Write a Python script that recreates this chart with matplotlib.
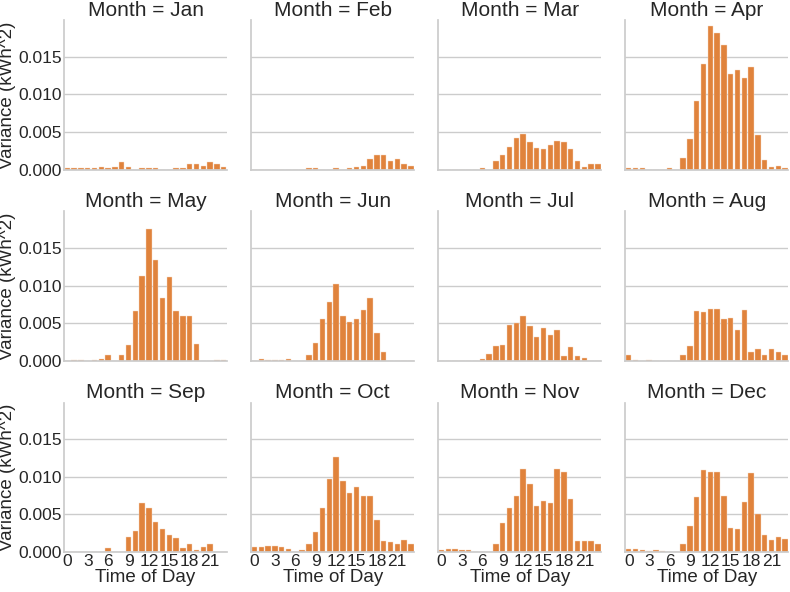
import matplotlib
matplotlib.use("Agg")
import matplotlib.pyplot as plt
import seaborn as sns

hours = list(range(24))
months = ["Jan", "Feb", "Mar", "Apr", "May", "Jun",
          "Jul", "Aug", "Sep", "Oct", "Nov", "Dec"]

# variance per hour of day (kWh^2)
jan = [0.00015, 0.00015, 0.00015, 0.00015, 0.00015, 0.0003, 0.0002, 0.0004, 0.0010, 0.0003, 0.0, 0.00015,
       0.00015, 0.00015, 0.0, 0.0, 0.00015, 0.0002, 0.0008, 0.0007, 0.0005, 0.0010, 0.0007, 0.0003]
feb = [0.0, 0.0, 0.0, 0.0, 0.0, 0.0, 0.0, 0.0, 0.0002, 0.0002, 0.0, 0.0,
       0.00015, 0.0, 0.00015, 0.0004, 0.0005, 0.0014, 0.0020, 0.0020, 0.0011, 0.0014, 0.0008, 0.0005]
mar = [0.0, 0.0, 0.0, 0.0, 0.0, 0.0, 0.00015, 0.0, 0.0011, 0.0019, 0.0030, 0.0042,
       0.0047, 0.0037, 0.0029, 0.0028, 0.0033, 0.0038, 0.0036, 0.0028, 0.0011, 0.0004, 0.0008, 0.0008]
apr = [0.00015, 0.00015, 0.0002, 0.0, 0.0, 0.0, 0.0002, 0.0, 0.0016, 0.0040, 0.0091, 0.0141,
       0.0191, 0.0182, 0.0166, 0.0127, 0.0132, 0.0122, 0.0136, 0.0046, 0.0013, 0.0004, 0.0005, 0.0002]
may = [0.0, 0.00015, 0.00015, 0.0, 0.00015, 0.0002, 0.0007, 0.0, 0.0007, 0.0021, 0.0066, 0.0113,
       0.0176, 0.0134, 0.0084, 0.0112, 0.0066, 0.0060, 0.0060, 0.0022, 0.0, 0.0, 0.00015, 0.00015]
jun = [0.0, 0.0002, 0.00015, 0.00015, 0.00015, 0.0002, 0.0, 0.0, 0.0007, 0.0024, 0.0055, 0.0078,
       0.0102, 0.0059, 0.0052, 0.0055, 0.0068, 0.0084, 0.0037, 0.0012, 0.0, 0.0, 0.0, 0.0]
jul = [0.0, 0.0, 0.0, 0.0, 0.0, 0.0, 0.0002, 0.0009, 0.0019, 0.0021, 0.0048, 0.0050,
       0.0059, 0.0046, 0.0031, 0.0043, 0.0034, 0.0041, 0.0006, 0.0018, 0.0006, 0.0004, 0.0, 0.0]
aug = [0.0008, 0.00015, 0.0, 0.00015, 0.0, 0.0, 0.0, 0.0, 0.0007, 0.0019, 0.0066, 0.0065,
       0.0069, 0.0069, 0.0055, 0.0057, 0.0041, 0.0067, 0.0012, 0.0015, 0.0007, 0.0015, 0.0011, 0.0008]
sep = [0.0, 0.0, 0.0, 0.0, 0.0, 0.0, 0.0005, 0.0, 0.0, 0.0020, 0.0028, 0.0065,
       0.0059, 0.0040, 0.0031, 0.0023, 0.0018, 0.0005, 0.0011, 0.0002, 0.0006, 0.0010, 0.0, 0.0]
oct_ = [0.0007, 0.0006, 0.0008, 0.0008, 0.0007, 0.0004, 0.0, 0.0002, 0.0011, 0.0027, 0.0059, 0.0097,
        0.0126, 0.0094, 0.0079, 0.0086, 0.0075, 0.0075, 0.0042, 0.0015, 0.0013, 0.0011, 0.0016, 0.0010]
nov = [0.0003, 0.0004, 0.0004, 0.0003, 0.0003, 0.0, 0.0, 0.0, 0.0011, 0.0039, 0.0058, 0.0075,
       0.0110, 0.0091, 0.0061, 0.0068, 0.0065, 0.0110, 0.0107, 0.0071, 0.0014, 0.0015, 0.0014, 0.0010]
dec = [0.0004, 0.0004, 0.0002, 0.00015, 0.0003, 0.00015, 0.0, 0.0, 0.0011, 0.0035, 0.0073, 0.0109,
       0.0106, 0.0106, 0.0074, 0.0032, 0.0030, 0.0066, 0.0105, 0.0050, 0.0023, 0.0016, 0.0020, 0.0017]

variances = [jan, feb, mar, apr, may, jun, jul, aug, sep, oct_, nov, dec]
xtick_vals = list(range(0, 24, 3))
ytick_vals = [0.0, 0.005, 0.010, 0.015]

sns.set_theme(style="whitegrid", font_scale=1.2)
plt.rcParams["font.family"] = ["Liberation Sans", "DejaVu Sans"]

fig, axes = plt.subplots(3, 4, figsize=(7.9, 5.92), dpi=100, sharex=True, sharey=True)
fig.subplots_adjust(left=0.081, right=0.998, top=0.966, bottom=0.0676,
                    wspace=0.147, hspace=0.28)

bar_color = "#e0833c"

for i, ax in enumerate(axes.flat):
    ax.bar(hours, variances[i], width=0.8, color=bar_color,
           edgecolor="#f6d9c4", linewidth=0.3)
    ax.set_title(f"Month = {months[i]}", fontsize=15, pad=3)
    ax.set_xlim(-0.5, 23.5)
    ax.set_ylim(0, 0.0199)
    ax.set_xticks(xtick_vals)
    ax.set_yticks(ytick_vals)
    ax.xaxis.grid(False)
    ax.tick_params(length=0, pad=1.5, labelsize=12.5)
    for side in ["top", "right"]:
        ax.spines[side].set_visible(False)
    if i % 4 == 0:
        ax.set_ylabel("Variance (kWh^2)", fontsize=13.5, labelpad=2)
    if i >= 8:
        ax.set_xlabel("Time of Day", fontsize=13.5, labelpad=0)

plt.savefig("out.png", dpi=100)
